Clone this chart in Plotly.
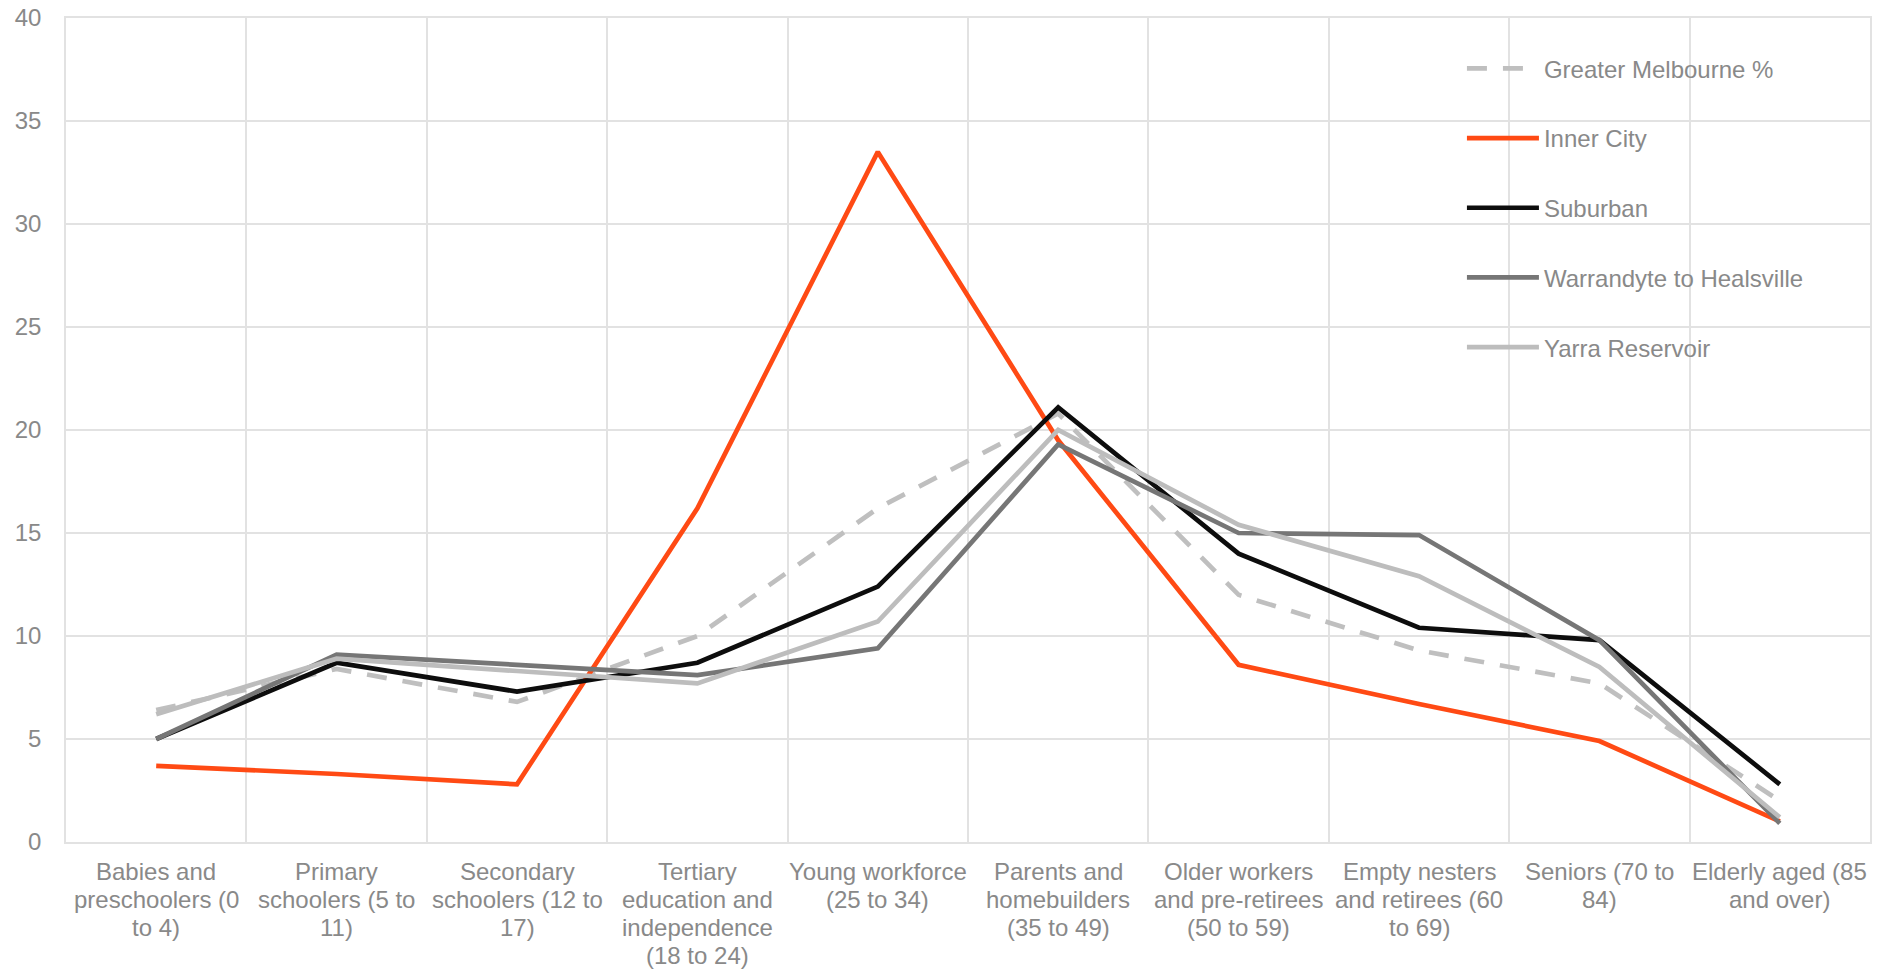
import plotly.graph_objects as go

# Age groups (service age groups), wrapped as they appear under the axis
categories = [
    ["Babies and", "preschoolers (0", "to 4)"],
    ["Primary", "schoolers (5 to", "11)"],
    ["Secondary", "schoolers (12 to", "17)"],
    ["Tertiary", "education and", "independence", "(18 to 24)"],
    ["Young workforce", "(25 to 34)"],
    ["Parents and", "homebuilders", "(35 to 49)"],
    ["Older workers", "and pre-retirees", "(50 to 59)"],
    ["Empty nesters", "and retirees (60", "to 69)"],
    ["Seniors (70 to", "84)"],
    ["Elderly aged (85", "and over)"],
]

# Share of population (%) in each age group
greater_melbourne = [6.4, 8.4, 6.8, 10.0, 16.2, 20.8, 12.0, 9.3, 7.7, 2.0]
inner_city = [3.7, 3.3, 2.8, 16.2, 33.5, 19.5, 8.6, 6.7, 4.9, 1.0]
suburban = [5.0, 8.7, 7.3, 8.7, 12.4, 21.1, 14.0, 10.4, 9.8, 2.8]
warrandyte_healsville = [5.0, 9.1, 8.6, 8.1, 9.4, 19.3, 15.0, 14.9, 9.8, 0.9]
yarra_reservoir = [6.2, 8.9, 8.3, 7.7, 10.7, 20.0, 15.4, 12.9, 8.5, 1.2]

y_ticks = [0, 5, 10, 15, 20, 25, 30, 35, 40]

FONT = "Liberation Sans, Arial, sans-serif"
TEXT_GREY = "#898989"
GRID = "#E2E2E2"
LW = 4.7

series = [
    ("Greater Melbourne %", greater_melbourne, "#BFBFBF", "20px,16px"),
    ("Inner City", inner_city, "#FF4A14", "solid"),
    ("Suburban", suburban, "#0D0D0D", "solid"),
    ("Warrandyte to Healsville", warrandyte_healsville, "#767676", "solid"),
    ("Yarra Reservoir", yarra_reservoir, "#BDBDBD", "solid"),
]

xpos = list(range(len(categories)))

fig = go.Figure()
for name, values, color, dash in series:
    fig.add_trace(go.Scatter(
        x=xpos, y=values, name=name, mode="lines",
        legendgroup=name,
        line=dict(color=color, width=LW, dash=dash),
        hoverinfo="name+y",
    ))

# Category labels below the plot, one annotation per wrapped line
LINE_GAP = 28
FIRST_LINE = 29
annotations = []
for i, lines in enumerate(categories):
    for k, txt in enumerate(lines):
        annotations.append(dict(
            x=i, y=0, xref="x", yref="paper",
            text=txt, showarrow=False,
            xanchor="center", yanchor="middle",
            yshift=-(FIRST_LINE + LINE_GAP * k),
            font=dict(family=FONT, size=24, color=TEXT_GREY),
        ))

fig.update_layout(
    width=1895, height=969,
    margin=dict(l=66, r=25, t=18, b=127, pad=0, autoexpand=False),
    paper_bgcolor="white", plot_bgcolor="white",
    font=dict(family=FONT, size=24, color=TEXT_GREY),
    showlegend=True,
    legend=dict(
        x=0.7738, y=0.9657, xanchor="left", yanchor="top",
        bgcolor="rgba(0,0,0,0)", borderwidth=0,
        itemwidth=72, tracegroupgap=35.5,
        font=dict(family=FONT, size=24, color=TEXT_GREY),
    ),
    annotations=annotations,
    xaxis=dict(
        range=[-0.5, len(categories) - 0.5],
        tickvals=[i - 0.5 for i in range(len(categories) + 1)],
        showticklabels=False, ticks="",
        showgrid=True, gridcolor=GRID, gridwidth=1.5,
        showline=True, linecolor=GRID, linewidth=1.5, mirror=True,
        zeroline=False, fixedrange=True, automargin=False,
    ),
    yaxis=dict(
        range=[0, 40], tickvals=y_ticks,
        ticktext=[str(v) for v in y_ticks],
        showgrid=True, gridcolor=GRID, gridwidth=1.5,
        showline=True, linecolor=GRID, linewidth=1.5, mirror=True,
        zeroline=False, ticks="", ticklabelstandoff=18,
        tickfont=dict(family=FONT, size=24, color=TEXT_GREY),
        fixedrange=True, automargin=False,
    ),
)

fig.write_html("out.html", config={"displayModeBar": False})
